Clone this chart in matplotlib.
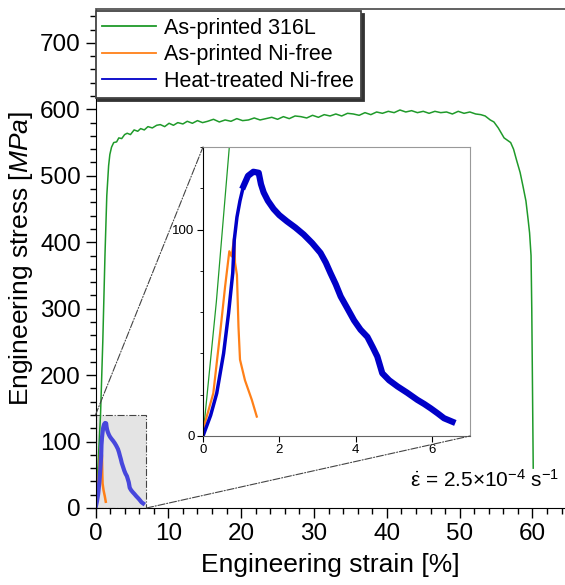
import matplotlib
matplotlib.use('Agg')
import matplotlib.pyplot as plt
from matplotlib.patches import Rectangle, ConnectionPatch
from matplotlib.ticker import MultipleLocator

plt.rcParams['font.family'] = ['Liberation Sans', 'DejaVu Sans']
plt.rcParams['mathtext.fontset'] = 'custom'
plt.rcParams['mathtext.rm'] = 'Liberation Sans'
plt.rcParams['mathtext.it'] = 'Liberation Sans:italic'

# As-printed 316L (strain %, stress MPa)
g_strain = [0, 0.35, 0.69, 1.0, 1.3, 1.55, 1.8, 1.97, 2.2, 2.5, 2.9, 3.2, 3.6, 4.0, 4.35,
            4.8, 5.3, 5.8, 6.2, 6.7, 7.2, 7.8, 8.4, 8.9, 9.5, 10.1, 10.7, 11.3, 12.0,
            12.6, 13.3, 14.0, 14.7, 15.4, 16.2, 17.0, 17.8, 18.6, 19.4, 20.2, 21.0,
            21.8, 22.6, 23.4, 24.2, 25.0, 25.8, 26.6, 27.4, 28.2, 29.0, 29.8, 30.6,
            31.4, 32.2, 33.0, 33.8, 34.6, 35.4, 36.2, 37.0, 37.8, 38.6, 39.4, 40.2,
            41.0, 41.8, 42.6, 43.4, 44.2, 45.0, 45.8, 46.6, 47.4, 48.2, 49.0, 49.8,
            50.6, 51.4, 52.2, 52.9, 53.5, 54.2, 54.7, 55.3, 56.1, 57.0, 57.4, 57.8,
            58.3, 58.7, 59.1, 59.4, 59.6, 59.8, 59.9, 60.0, 60.1]
g_stress = [0, 65, 140, 250, 380, 470, 515, 532, 543, 550, 551, 557, 556, 562, 564,
            562, 569, 567, 571, 569, 574, 572, 576, 577, 574, 579, 576, 580, 578,
            582, 579, 583, 580, 582, 585, 581, 584, 582, 586, 583, 584, 587, 584,
            586, 588, 585, 589, 586, 590, 589, 587, 591, 588, 592, 590, 593, 590,
            594, 593, 591, 595, 592, 596, 594, 597, 595, 599, 596, 598, 595, 597,
            594, 597, 595, 596, 593, 597, 594, 596, 593, 592, 590, 584, 581, 572,
            557, 550, 540, 524, 505, 484, 462, 434, 414, 380, 300, 180, 60]

# As-printed Ni-free
o_strain = [0, 0.27, 0.45, 0.58, 0.69, 0.75, 0.82, 0.84, 0.89, 0.93, 0.97, 1.1, 1.28, 1.41]
o_stress = [3, 20.7, 50, 72.5, 89.5, 87, 96.7, 84, 78, 53, 37, 27, 17.5, 9.4]

# Heat-treated Ni-free
b_strain = [0, 0.2, 0.36, 0.54, 0.67, 0.78, 0.82, 0.89, 0.97, 1.06, 1.18, 1.32, 1.46,
            1.52, 1.59, 1.7, 1.85, 2.0, 2.20, 2.42, 2.64, 2.86, 3.08, 3.22, 3.34, 3.48,
            3.61, 3.78, 3.96, 4.13, 4.31, 4.45, 4.57, 4.70, 4.88, 5.10, 5.35, 5.62,
            5.8, 5.97, 6.15, 6.32, 6.54]
b_stress = [0, 10, 20.7, 40, 59.5, 79, 95, 106, 114, 121, 126, 128, 127.5,
            122, 118, 114, 110, 107, 104, 101, 97.6, 93.5, 88.7, 84, 79, 73.5,
            67.6, 62, 56, 51.5, 48, 43, 38.5, 30.4, 27, 24, 21, 17.5,
            15.5, 13.4, 11, 8.6, 6.9]
b_peak = 11  # index of the maximum stress

labels = ['As-printed 316L', 'As-printed Ni-free', 'Heat-treated Ni-free']
c_green = '#1f9a2a'
c_orange = '#ff8018'
c_blue = '#0000c8'

W, H = 565, 585
fig = plt.figure(figsize=(W / 100, H / 100), dpi=100)
ax = fig.add_axes([95.5 / W, (H - 508) / H, (566 - 95.5) / W, (508 - 9) / H])

ax.add_patch(Rectangle((0, 0), 7, 140, facecolor='#e4e4e4', edgecolor='#444',
                       linestyle='-.', linewidth=0.8, zorder=0))
ax.plot(g_strain, g_stress, color=c_green, lw=1.1, label=labels[0])
ax.plot(o_strain, o_stress, color=c_orange, lw=1.8, label=labels[1])
ax.plot(b_strain, b_stress, color='#4747dc', lw=3, label=labels[2])

ax.set_xlim(0, 64.6)
ax.set_ylim(0, 751)
ax.xaxis.set_major_locator(MultipleLocator(10))
ax.xaxis.set_minor_locator(MultipleLocator(2))
ax.yaxis.set_major_locator(MultipleLocator(100))
ax.yaxis.set_minor_locator(MultipleLocator(20))
ax.tick_params(which='major', length=7, width=1, labelsize=17.5, direction='out')
ax.tick_params(which='minor', length=4, width=1, direction='out')
ax.spines['top'].set_color('#555')
ax.spines['top'].set_linewidth(1.3)
ax.spines['right'].set_visible(False)
ax.set_xlabel('Engineering strain [%]', fontsize=19, labelpad=6)
ax.set_ylabel('Engineering stress [$\\mathit{MPa}$]', fontsize=19, labelpad=4)

leg = ax.legend(loc='upper left', bbox_to_anchor=(0.0, 0.995), fontsize=15.5,
                frameon=True, fancybox=False, shadow={'color': '#333', 'alpha': 1},
                borderaxespad=0, handlelength=2.5, handletextpad=0.4, borderpad=0.3,
                labelspacing=0.25)
leg.get_frame().set_edgecolor('#444')
leg.get_frame().set_linewidth(1.3)
for line in leg.get_lines():
    line.set_linewidth(1.3)
leg.get_lines()[2].set_color(c_blue)

ax.text(0.985, 0.035, '$\\dot{\\mathrm{\\varepsilon}}$ = 2.5$\\times$10$^{-4}$ s$^{-1}$',
        transform=ax.transAxes, ha='right', va='bottom', fontsize=15)

# inset
axin = fig.add_axes([203 / W, (H - 436) / H, (470 - 203) / W, (436 - 147) / H])
axin.plot(g_strain, g_stress, color=c_green, lw=0.9)
axin.plot(o_strain, o_stress, color=c_orange, lw=1.6)
axin.plot(b_strain[:b_peak + 1], b_stress[:b_peak + 1], color=c_blue, lw=2.5,
          solid_capstyle='round')
axin.plot(b_strain[b_peak - 2:], b_stress[b_peak - 2:], color=c_blue, lw=4.5,
          solid_joinstyle='round')
axin.set_xlim(0, 7)
axin.set_ylim(0, 140)
axin.xaxis.set_major_locator(MultipleLocator(2))
axin.yaxis.set_major_locator(MultipleLocator(100))
axin.yaxis.set_minor_locator(MultipleLocator(20))
axin.tick_params(which='major', length=4, labelsize=9.5, direction='out', pad=2)
axin.tick_params(which='minor', length=2.5, direction='out')
for s in ['top', 'right']:
    axin.spines[s].set_color('#999')
axin.spines['bottom'].set_color('#666')

for xa, ya, xb, yb in [(0, 140, 0, 140), (7, 0, 7, 0)]:
    con = ConnectionPatch(xyA=(xa, ya), coordsA=ax.transData, xyB=(xb, yb),
                          coordsB=axin.transData, linestyle='-.', color='#444', lw=0.8)
    fig.add_artist(con)

fig.savefig('out.png', dpi=100)
